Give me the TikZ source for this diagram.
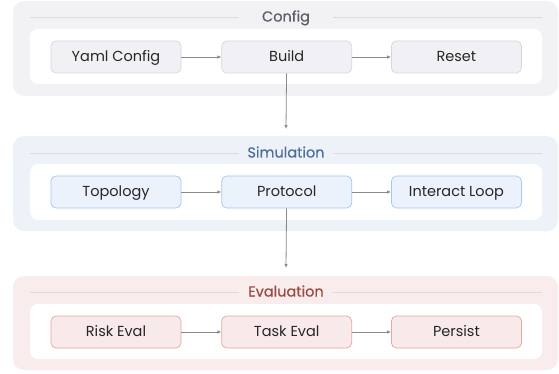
\documentclass[tikz,border=0pt]{standalone}
\usepackage{fontspec}
\setmainfont{Poppins}
\newfontfamily\headfont[BoldFont=Poppins, BoldFeatures={FakeBold=0.5}]{Poppins}
\usetikzlibrary{arrows.meta,positioning}
\definecolor{cfgpanel}{HTML}{F2F2F5}
\definecolor{cfgfill}{HTML}{F1F1F5}
\definecolor{cfgline}{HTML}{D6D6DE}
\definecolor{cfgtext}{HTML}{5A5E68}
\definecolor{simpanel}{HTML}{EDF1F8}
\definecolor{simfill}{HTML}{EBF2FC}
\definecolor{simline}{HTML}{A9C6EE}
\definecolor{simtext}{HTML}{4D6D9C}
\definecolor{evlpanel}{HTML}{F8ECEC}
\definecolor{evlfill}{HTML}{F8EAEA}
\definecolor{evlline}{HTML}{E4A8A1}
\definecolor{evltext}{HTML}{9C4940}
\definecolor{rulegray}{HTML}{DCDCDC}
\definecolor{flowgray}{HTML}{8A8A8A}

\begin{document}
\begin{tikzpicture}[x=1pt,y=-1pt,
  stage/.style={draw=#1line, fill=#1fill, line width=0.7pt, rounded corners=5pt,
    minimum width=130pt, minimum height=32pt, inner sep=0pt,
    text height=0.9em, text depth=0pt,
    font=\fontsize{14.5}{16}\selectfont, text=black!85},
  heading/.style={minimum width=93pt, inner sep=0pt, text=#1text,
    text height=0.9em, text depth=0pt,
    font=\headfont\bfseries\fontsize{14.5}{16}\selectfont},
  panel/.style={fill=#1panel, rounded corners=11pt},
  well/.style={fill=white, rounded corners=8pt},
  sep/.style={draw=rulegray, line width=0.8pt},
  flow/.style={draw=flowgray, line width=0.8pt, -{Latex[length=4pt,width=3.5pt]}}]
  \useasboundingbox (0,0) rectangle (559,374);

  % Config
  \fill[panel=cfg] (13,1) rectangle (558,96);
  \fill[well] (30,29) rectangle (542,84);
  \node[heading=cfg] (cfghead) at (286,17) {Config};
  \draw[sep] (30,17) -- (cfghead.west);
  \draw[sep] (cfghead.east) -- (542,17);
  \node[stage=cfg] (yaml) at (116,57) {Yaml Config};
  \node[stage=cfg, right=40pt of yaml] (build) {Build};
  \node[stage=cfg, right=39pt of build] (reset) {Reset};
  \draw[flow] (yaml) -- (build);
  \draw[flow] (build) -- (reset);

  % Simulation
  \fill[panel=sim] (13,136) rectangle (558,231);
  \fill[well] (30,164) rectangle (542,220);
  \node[heading=sim] (simhead) at (286,153) {Simulation};
  \draw[sep] (30,153) -- (simhead.west);
  \draw[sep] (simhead.east) -- (542,153);
  \node[stage=sim] (topo) at (116,192) {Topology};
  \node[stage=sim, right=40pt of topo] (proto) {Protocol};
  \node[stage=sim, right=39pt of proto] (loop) {Interact Loop};
  \draw[flow] (topo) -- (proto);
  \draw[flow] (proto) -- (loop);

  % Evaluation
  \fill[panel=evl] (13,276) rectangle (558,370);
  \fill[well] (30,304) rectangle (542,359);
  \node[heading=evl] (evlhead) at (286,292) {Evaluation};
  \draw[sep] (30,292) -- (evlhead.west);
  \draw[sep] (evlhead.east) -- (542,292);
  \node[stage=evl] (risk) at (116,332) {Risk Eval};
  \node[stage=evl, right=40pt of risk] (task) {Task Eval};
  \node[stage=evl, right=39pt of task] (persist) {Persist};
  \draw[flow] (risk) -- (task);
  \draw[flow] (task) -- (persist);

  % hand-off between stages
  \coordinate (simin) at (286,129);
  \coordinate (evlin) at (286,268);
  \draw[flow] (build) -- (simin);
  \draw[flow] (proto) -- (evlin);
\end{tikzpicture}
\end{document}
